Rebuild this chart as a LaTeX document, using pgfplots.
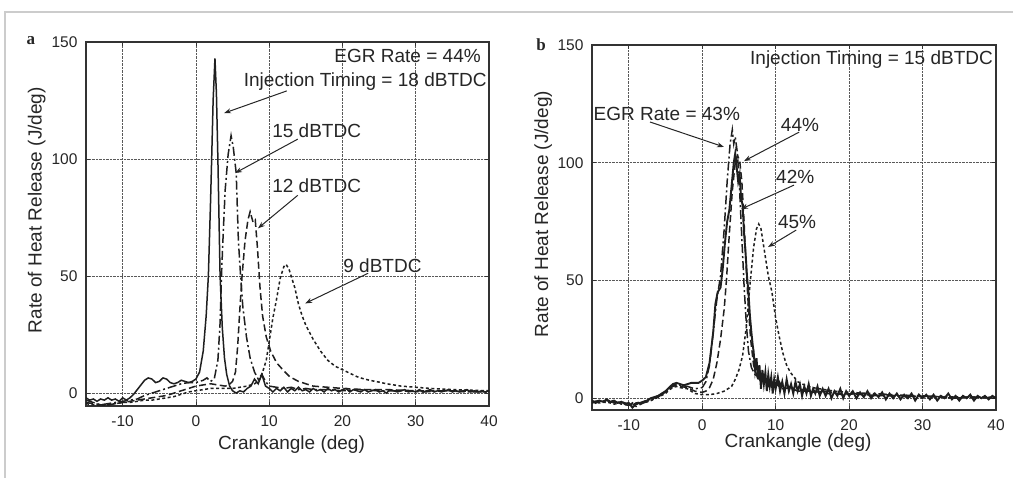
\documentclass[border=0pt]{standalone}
\usepackage{pgfplots}
\pgfplotsset{compat=1.18}
\usepackage{fontspec}
\setmainfont{Liberation Sans}
\newfontfamily\serifbold{Liberation Serif}
\usetikzlibrary{arrows.meta}
\definecolor{ink}{gray}{0.12}
\pgfplotsset{
  rhr/.style={
    scale only axis, xmin=-15, xmax=40, ymin=-5.5, ymax=150,
    xtick={-10,0,...,40}, ytick={0,50,100,150},
    grid=major, major grid style={densely dotted, black!65, line width=0.8pt},
    axis line style={line width=1.2pt, black!80},
    tick align=inside, major tick length=4pt, tick style={black!80, line width=0.8pt},
    ticklabel style={font=\fontsize{15.5}{18}\selectfont, text=black!85},
    /pgf/number format/assume math mode=true,
    xticklabel style={yshift=-6pt},
    yticklabel style={xshift=-5pt},
    label style={font=\fontsize{19}{22}\selectfont, text=black!85},
    xlabel={Crankangle (deg)}, ylabel={Rate of Heat Release (J/deg)},
    every axis plot/.append style={line width=1.5pt, ink},
  },
}
\tikzset{
  ann/.style={font=\fontsize{19}{22}\selectfont, text=black!85, inner sep=0pt},
  arr/.style={-{Stealth[length=7pt,width=5pt]}, line width=1pt, black!85},
  sdashdot/.style={dash pattern=on 9pt off 3pt on 2pt off 3pt},
  sdashed/.style={dash pattern=on 7pt off 3.5pt},
  sdotted/.style={dash pattern=on 3pt off 2.5pt},
}
\begin{document}
\begin{tikzpicture}
\fill[white] (0,0) rectangle (1013pt,478pt);
\useasboundingbox (0,0) rectangle (1013pt,478pt);
\draw[black!20, line width=1.5pt] (5pt,0) -- (5pt,466pt) -- (1013pt,466pt);

% ---------------- panel a ----------------
\begin{axis}[rhr, at={(86pt,72pt)}, anchor=south west, width=403pt, height=364pt,
  every axis y label/.append style={at={(axis description cs:-0.122,0.538)}, anchor=center},
  every axis x label/.append style={at={(axis description cs:0.51,-0.107)}, anchor=center}]
% 18 dBTDC solid
\addplot[solid] coordinates {
(-15,-2) (-14.5,-3) (-14,-2.5) (-13.5,-3.5) (-13,-2.5) (-12.5,-3) (-12,-2) (-11.5,-3) (-11,-2.5) (-10.5,-3.5)
(-10,-2) (-9.5,-3) (-9,-2) (-8.5,-0.5) (-8,1.5) (-7.5,3.5) (-7,5.5) (-6.5,6.5) (-6,6) (-5.5,4.5) (-5,5)
(-4.5,6.5) (-4,6) (-3.5,4.5) (-3,4) (-2.5,4.5) (-2,5.5) (-1.5,5) (-1,4.5) (-0.5,5) (0,6) (0.5,9) (1,18)
(1.4,33) (1.7,50) (2,82) (2.15,100) (2.35,125) (2.6,143) (2.8,128) (3.0,100) (3.15,75) (3.3,50) (3.6,28)
(3.9,15) (4.2,8) (4.6,3) (5,1) (5.5,0) (6,1) (6.5,0.5) (7,2) (7.5,3) (8,6) (8.5,4) (9,8) (9.5,3) (10,2)
(10.5,0.5) (11,2) (11.5,1) (12,2.5) (12.5,0.5) (13,2) (13.5,1) (14,2.5) (14.5,1) (15,1.5) (15.5,0.5)
(16,2) (16.5,1) (17,1.5) (17.5,0.5) (18,2) (18.5,1) (19,1.5) (19.5,0.5) (20,1.5) (20.5,2) (21,0.5)
(21.5,1.5) (22,1) (22.5,0.5) (23,1.5) (23.5,0.5) (24,1) (24.5,1.5) (25,0.5) (25.5,1) (26,0) (26.5,1.5)
(27,1) (27.5,0.5) (28,1) (28.5,1.5) (29,0.5) (29.5,1) (30,0.5) (30.5,1.5) (31,0.5) (31.5,1) (32,1.5)
(32.5,0.5) (33,1) (33.5,0.5) (34,1) (34.5,1.5) (35,0.5) (35.5,1) (36,0.5) (36.5,1) (37,1.5) (37.5,0.5)
(38,1) (38.5,0.5) (39,1) (39.5,0.5) (40,1)
};
% 15 dBTDC dash-dot
\addplot[sdashdot] coordinates {
(-15,-3) (-14,-4) (-13,-5) (-12,-4.5) (-11,-4) (-10,-3.5) (-9,-3) (-8,-2.5) (-7,-1) (-6,0) (-5,1) (-4,2)
(-3,3) (-2,4) (-1,4.5) (0,4.5) (0.5,5) (1,5.5) (1.5,6.5) (2,5) (2.5,6) (3,14) (3.3,30) (3.5,51) (3.75,70)
(4,87) (4.4,102) (4.8,110) (5.1,105) (5.5,94) (5.8,65) (6.1,50) (6.4,37) (6.9,24) (7.4,15) (8,9) (8.5,6)
(9,8) (9.5,5) (10,3) (11,2.5) (12,2) (13,2.5) (14,1.5) (15,2) (16,1.5) (18,1.5) (20,1) (22,1.5) (25,1)
(28,1) (31,0.5) (34,1) (37,0.5) (40,0.5)
};
% 12 dBTDC dashed
\addplot[sdashed] coordinates {
(-15,-4) (-14,-4.5) (-13,-5) (-12,-5) (-11,-4.5) (-10,-4) (-9,-3.5) (-8,-3) (-7,-2.5) (-6,-2) (-5,-1.5)
(-4,-1) (-3,0) (-2,1) (-1,2) (0,3) (1,3.5) (2,4) (3,3.5) (4,3) (4.5,3.5) (5,5) (5.4,9) (5.7,20) (6,36)
(6.3,50) (6.7,65) (7.1,74) (7.4,77.5) (7.8,73) (8.1,74) (8.4,62) (8.75,45) (9.1,33) (9.6,24) (10.2,18)
(11,13) (12,9.5) (12.8,7) (14,5) (15,4) (16,3) (18,2.5) (20,2) (23,1.5) (26,1.5) (30,1) (35,1) (40,0.5)
};
% 9 dBTDC dotted
\addplot[sdotted] coordinates {
(-15,-4.5) (-14,-5) (-13,-5.5) (-12,-5) (-11,-4.5) (-10,-4) (-9,-4) (-8,-3.5) (-7,-3) (-6,-3) (-5,-2.5)
(-4,-2) (-3,-1.5) (-2,-0.5) (-1,0.5) (0,1) (1,1.5) (2,2) (3,2) (4,2) (5,2) (6,2.5) (7,3) (8,4) (8.5,5)
(9,8) (9.6,14) (10,22) (10.5,32) (11,40) (11.5,49) (12,54) (12.3,55) (12.7,53) (13,50) (13.5,45) (14,38)
(14.5,33) (15,29) (15.5,26) (16,23) (17,18) (18,14) (19,11.5) (20,10) (21,8.5) (22,7) (23,6) (24,5.3)
(25,4.7) (26,4) (28,3) (30,2.5) (32,2) (35,1.5) (40,1)
};
\node[ann, anchor=east] at (axis cs:38.9,144) {EGR Rate = 44\%};
\node[ann, anchor=east] at (axis cs:39.7,132.9) {Injection Timing = 18 dBTDC};
\draw[arr] (axis cs:12.4,129.1) -- (axis cs:3.84,119.6);
\node[ann, anchor=west] at (axis cs:10.4,111.9) {15 dBTDC};
\draw[arr] (axis cs:13.9,108.5) -- (axis cs:5.34,94.0);
\node[ann, anchor=west] at (axis cs:10.4,88.4) {12 dBTDC};
\draw[arr] (axis cs:13.9,84.5) -- (axis cs:8.47,70.4);
\node[ann, anchor=west] at (axis cs:20.1,54.4) {9 dBTDC};
\draw[arr] (axis cs:23.5,51.2) -- (axis cs:14.9,38.3);
\end{axis}
\node[font=\serifbold\bfseries\fontsize{17}{20}\selectfont, text=black!85] at (31pt,437pt) {a};

% ---------------- panel b ----------------
\begin{axis}[rhr, ymin=-5, at={(592pt,68pt)}, anchor=south west, width=404pt, height=365pt,
  every axis y label/.append style={at={(axis description cs:-0.121,0.537)}, anchor=center},
  every axis x label/.append style={at={(axis description cs:0.51,-0.088)}, anchor=center}]
% 42% solid thick
\addplot[solid, line width=1.9pt] coordinates {
(-15,-1) (-14.5,-2) (-14,-1) (-13.5,-1.5) (-13,-0.5) (-12.5,-1.5) (-12,-1) (-11.5,-2) (-11,-1.5)
(-10.5,-2.5) (-10,-2) (-9.5,-4) (-9,-2.5) (-8.5,-2) (-8,-1.5) (-7.5,-1) (-7,0) (-6.5,0.5) (-6,1)
(-5.5,2) (-5,3) (-4.5,4.5) (-4,6) (-3.5,6.5) (-3,6) (-2.5,5.5) (-2,6) (-1.5,6.5) (-1,6.5) (-0.5,6.5)
(0,7.5) (0.5,9) (1,15) (1.5,28) (1.8,40) (2.1,45) (2.5,47) (2.8,55) (3.1,66) (3.4,75) (3.7,80) (4,90)
(4.3,100) (4.5,104) (4.7,98) (4.9,92) (5.1,95) (5.3,85) (5.5,82) (5.7,70) (5.9,62) (6.1,52) (6.3,45)
(6.5,35) (6.7,28) (6.9,22) (7.0,20) (7.2,12) (7.4,17) (7.6,8) (7.8,14) (8.0,4) (8.2,12) (8.4,6) (8.6,11)
(8.8,3) (9.0,10) (9.2,5) (9.4,9) (9.6,2) (9.8,8) (10.0,4) (10.3,9) (10.6,3) (10.9,7) (11.2,2) (11.5,8)
(11.8,3) (12.1,6) (12.4,2) (12.7,7) (13.0,3) (13.3,6) (13.6,1) (13.9,5) (14.2,2) (14.5,6) (14.8,1)
(15.1,4) (15.4,2) (15.7,5) (16,1) (16.4,4) (16.8,1) (17.2,4) (17.6,0) (18,3) (18.4,1) (18.8,4) (19.2,0)
(19.6,3) (20,1) (20.5,3) (21,0) (21.5,2.5) (22,0.5) (22.5,3) (23,0) (23.5,2) (24,0.5) (24.5,2.5)
(25,-0.5) (25.5,2) (26,0) (26.5,2) (27,-0.5) (27.5,1.5) (28,0) (28.5,2) (29,-1) (29.5,1.5) (30,0)
(30.5,1.5) (31,-0.5) (31.5,1.5) (32,-1) (32.5,1) (33,0) (33.5,2) (34,-0.5) (34.5,1) (35,-1) (35.5,1)
(36,0) (36.5,1.5) (37,-1) (37.5,1) (38,0) (38.5,1) (39,-0.5) (39.5,1) (40,0)
};
% 43% dash-dot
\addplot[sdashdot] coordinates {
(-15,-1.5) (-14,-1) (-13,-2) (-12,-1.5) (-11,-2.5) (-10,-3) (-9.5,-2) (-9,-3.5) (-8,-2) (-7,-1)
(-6,0.5) (-5,2.5) (-4.5,4) (-4,5.5) (-3.5,6) (-3,5.5) (-2,5) (-1,4) (0,4.5) (0.5,7) (1,14) (1.5,28)
(2,42) (2.5,52) (3,72) (3.4,92) (3.8,108) (4.1,114) (4.3,108) (4.5,111) (4.8,104) (5.1,88) (5.4,68)
(5.7,48) (6,32) (6.3,20) (6.7,13) (7.2,10) (7.8,8) (8.3,10) (8.8,6) (9.3,8) (10,5) (10.5,7) (11,4)
(12,5) (13,3) (14,4) (15,2.5) (17,3) (19,1.5) (21,2) (23,1) (25,1.5) (28,0.5) (31,1) (34,0) (37,0.5) (40,0)
};
% 44% dashed
\addplot[sdashed] coordinates {
(-15,-2) (-14,-1.5) (-13,-1) (-12,-2) (-11,-1.5) (-10,-2.5) (-9.5,-3) (-9,-2) (-8,-1.5) (-7,-0.5)
(-6,1) (-5,2.5) (-4.5,4) (-4,5) (-3.5,5.5) (-3,5) (-2,4.5) (-1,3) (0,2.5) (0.5,3) (1,4.5) (1.5,8)
(2,15) (2.5,25) (3,38) (3.3,50) (3.7,70) (4.1,88) (4.5,100) (4.8,103) (5.1,101) (5.4,92) (5.7,75)
(6,55) (6.3,38) (6.6,25) (7,14) (7.5,9) (8,7) (8.5,8) (9,5) (10,6) (11,4) (12,4.5) (13,3) (15,3)
(17,2) (19,2) (22,1.5) (25,1) (28,1) (32,0.5) (36,0.5) (40,0)
};
% 45% dotted
\addplot[sdotted] coordinates {
(-15,-1.5) (-14,-2) (-13,-1.5) (-12,-2.5) (-11,-2) (-10,-3) (-9,-2.5) (-8,-2) (-7,-1) (-6,0.5)
(-5,2) (-4.5,3.5) (-4,4.5) (-3.5,5) (-3,4.5) (-2,4) (-1,2) (0,1.5) (1,1.5) (2,2) (3,3) (4,5) (4.5,8)
(5,12) (5.5,18) (6,30) (6.5,48) (7,64) (7.4,72) (7.7,74) (8,72) (8.5,62) (9,52) (9.5,45) (10,34)
(10.5,26) (11,19) (11.5,14) (12,11) (12.5,9) (13,7) (14,5.5) (15,4.5) (16,4) (18,3) (20,2.5) (23,2)
(26,1.5) (30,1) (35,0.5) (40,0.5)
};
\node[ann, anchor=east] at (axis cs:39.6,143.6) {Injection Timing = 15 dBTDC};
\node[ann, anchor=west] at (axis cs:-14.8,120.7) {EGR Rate = 43\%};
\draw[arr] (axis cs:-7.1,117.3) -- (axis cs:2.97,106.7);
\node[ann, anchor=west] at (axis cs:10.7,116) {44\%};
\draw[arr] (axis cs:13.2,113) -- (axis cs:5.69,100.7);
\node[ann, anchor=west] at (axis cs:10.05,93.9) {42\%};
\draw[arr] (axis cs:12.5,90.5) -- (axis cs:5.28,80.3);
\node[ann, anchor=west] at (axis cs:10.3,74.8) {45\%};
\draw[arr] (axis cs:12.8,71.4) -- (axis cs:8.96,64.2);
\end{axis}
\node[font=\serifbold\bfseries\fontsize{17}{20}\selectfont, text=black!85] at (541pt,433pt) {b};
\end{tikzpicture}
\end{document}
